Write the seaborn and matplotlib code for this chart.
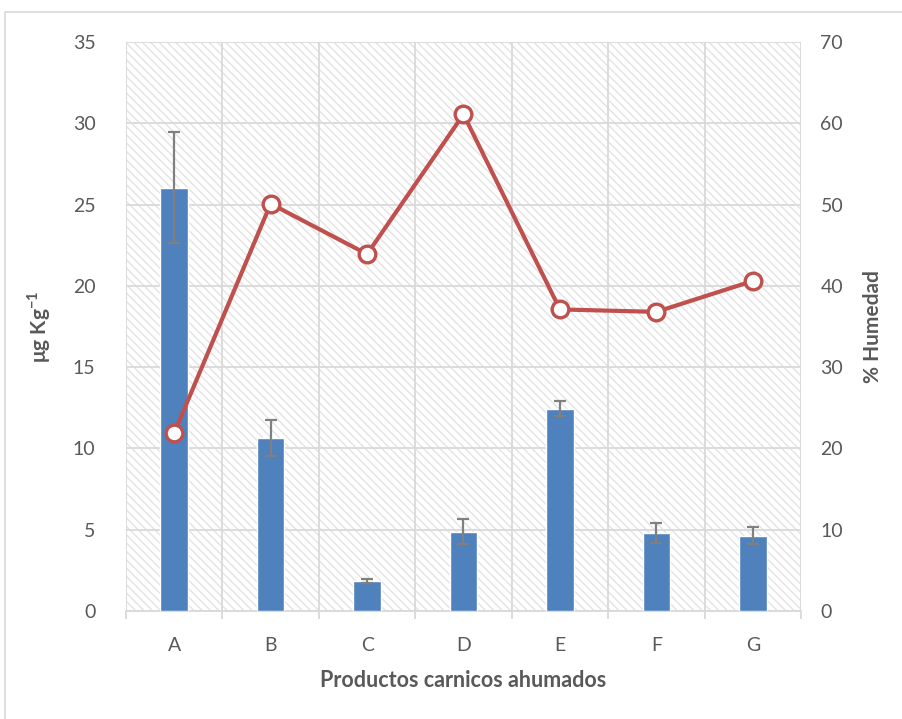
import matplotlib
matplotlib.use("Agg")
import matplotlib.pyplot as plt
import seaborn as sns
import pandas as pd
import numpy as np
from matplotlib.patches import Rectangle

categories = ["A", "B", "C", "D", "E", "F", "G"]
concentration = [26.05, 10.65, 1.85, 4.88, 12.45, 4.8, 4.63]
conc_error = [3.4, 1.1, 0.12, 0.75, 0.45, 0.62, 0.52]
humidity = [21.9, 50.1, 43.9, 61.1, 37.1, 36.8, 40.6]

left_ticks = [0, 5, 10, 15, 20, 25, 30, 35]
right_ticks = [0, 10, 20, 30, 40, 50, 60, 70]

df = pd.DataFrame({"cat": categories, "conc": concentration,
                   "err": conc_error, "hum": humidity})

sns.set_theme(style="white")
plt.rcParams["font.family"] = ["Lato", "DejaVu Sans"]
plt.rcParams["hatch.linewidth"] = 1.0

TXT = "#595959"
GRID = "#d9d9d9"

fig = plt.figure(figsize=(9.03, 7.19), dpi=100)
ax = fig.add_axes([126 / 903, 1 - 611 / 719, 675 / 903, 569 / 719])

# figure border
fig.patches.append(Rectangle((5 / 903, -0.01), 1.0, 1 - 12 / 719 + 0.01,
                             transform=fig.transFigure, fill=False,
                             edgecolor="#d9d9d9", linewidth=1.2))

# hatched background of plot area
ax.add_patch(Rectangle((0, 0), 1, 1, transform=ax.transAxes,
                       facecolor="white", edgecolor="#e3e3e3", linewidth=0,
                       hatch="\\\\\\\\", zorder=0))

sns.barplot(data=df, x="cat", y="conc", color="#4f81bd", width=0.285,
            saturation=1, errorbar=None, ax=ax, zorder=3)
ax.errorbar(np.arange(len(categories)), concentration, yerr=conc_error,
            fmt="none", ecolor="#808080", elinewidth=1.6, capsize=4.5,
            capthick=1.6, zorder=4)

ax.set_xlim(-0.5, len(categories) - 0.5)
ax.set_ylim(0, 35)
ax.set_yticks(left_ticks)
ax.set_yticklabels([str(t) for t in left_ticks])

# gridlines
for y in left_ticks:
    ax.axhline(y, color=GRID, lw=1.3, zorder=1)
for x in np.arange(-0.5, len(categories)):
    ax.axvline(x, color=GRID, lw=1.3, zorder=1)

for s in ax.spines.values():
    s.set_visible(False)
ax.spines["bottom"].set_visible(True)
ax.spines["bottom"].set_color(GRID)
ax.spines["bottom"].set_linewidth(1.3)

ax.set_xticks(np.arange(len(categories)))
ax.set_xticklabels(categories)
ax.set_xticks(np.arange(-0.5, len(categories)), minor=True)
ax.tick_params(axis="x", which="major", length=0, pad=19, labelsize=14,
               labelcolor=TXT)
ax.tick_params(axis="x", which="minor", length=6, width=1.3, color=GRID,
               bottom=True)
ax.tick_params(axis="y", length=0, pad=22, labelsize=14, labelcolor=TXT)

ax.set_xlabel("Productos carnicos ahumados", fontsize=15.5, fontweight="bold",
              color=TXT, labelpad=11)
ax.set_ylabel("μg Kg$^{\\mathregular{-1}}$", fontsize=15, fontweight="bold",
              color=TXT, labelpad=14)

ax2 = ax.twinx()
sns.lineplot(data=df, x="cat", y="hum", ax=ax2, color="#c0504d", lw=3,
             marker="o", markersize=12, markerfacecolor="white",
             markeredgecolor="#c0504d", markeredgewidth=2.4, zorder=5,
             sort=False)
ax2.set_ylim(0, 70)
ax2.set_yticks(right_ticks)
ax2.set_yticklabels([str(t) for t in right_ticks])
ax2.tick_params(axis="y", length=0, pad=14, labelsize=14, labelcolor=TXT)
for s in ax2.spines.values():
    s.set_visible(False)
ax2.set_ylabel("% Humedad", fontsize=15, fontweight="bold", color=TXT,
               labelpad=14)
ax2.set_xlim(-0.5, len(categories) - 0.5)

fig.savefig("out.png", dpi=100)
